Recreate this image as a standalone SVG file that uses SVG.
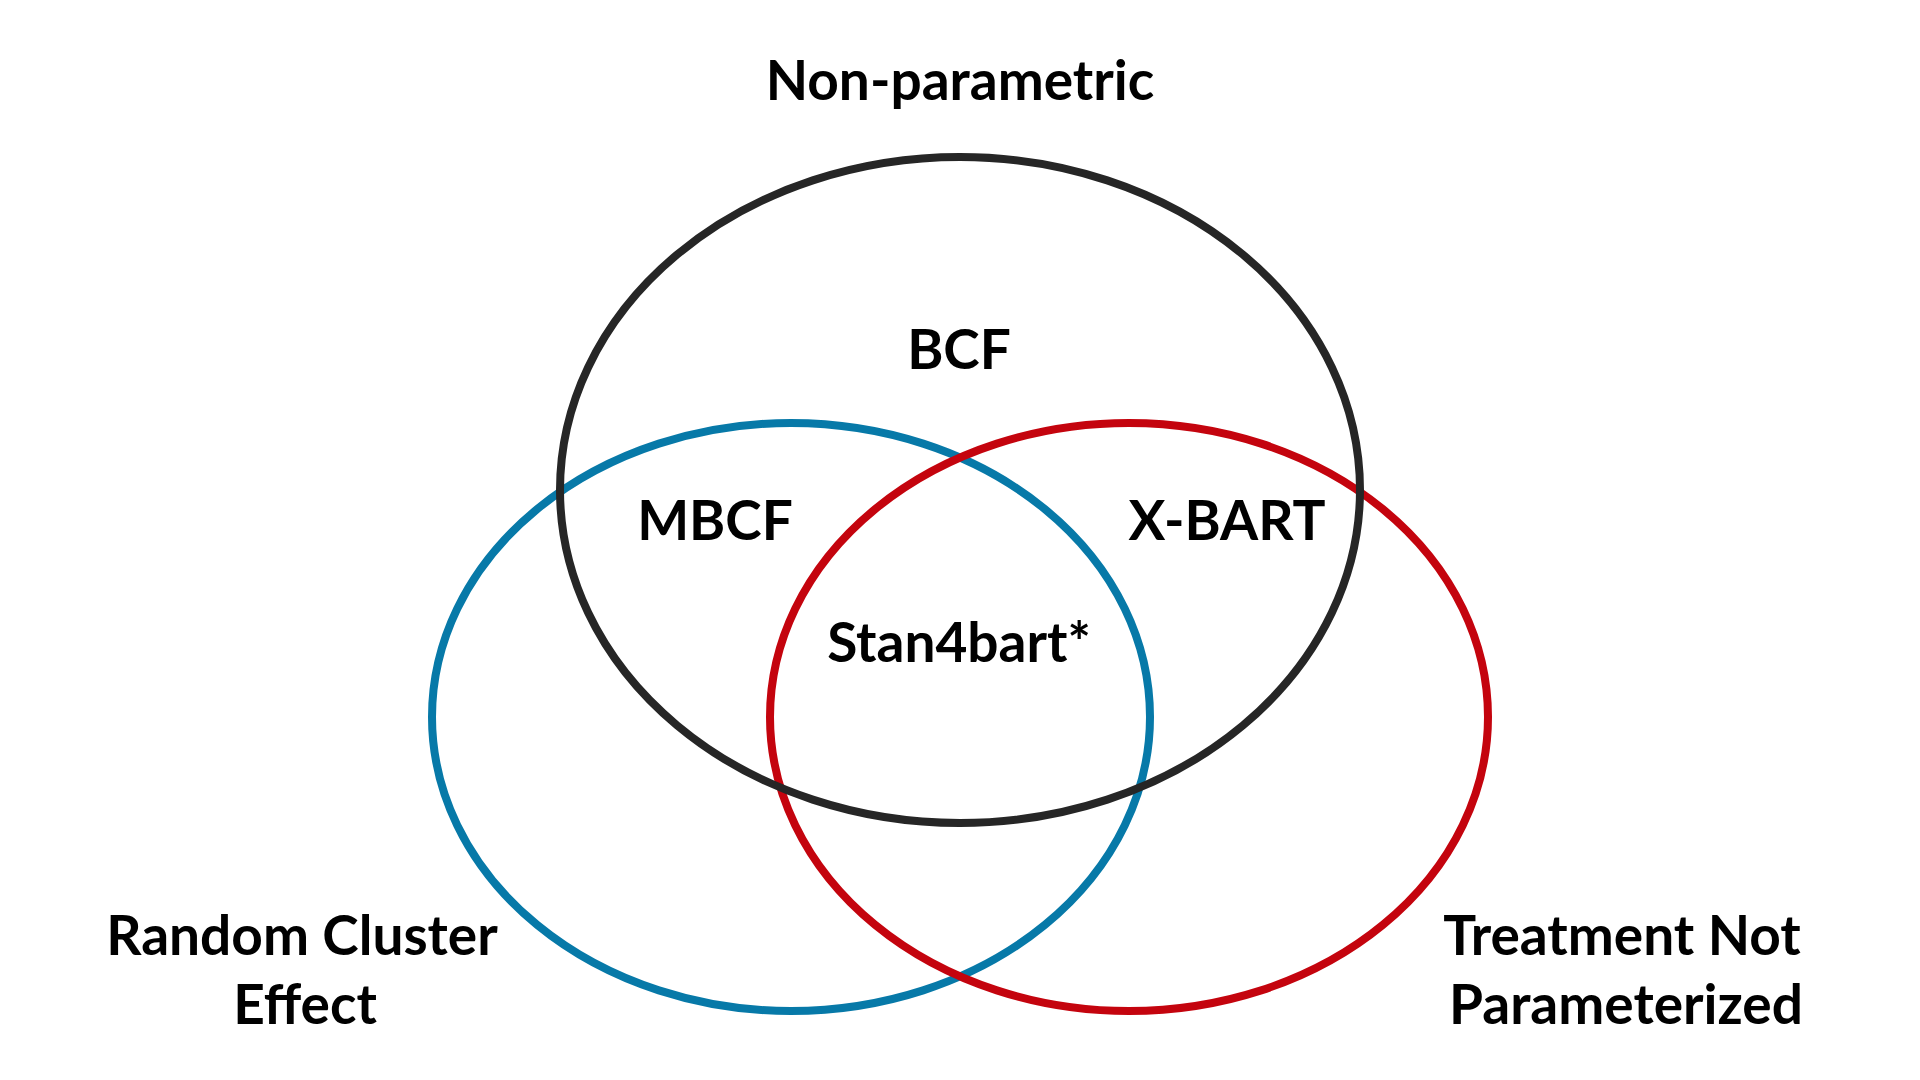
<svg xmlns="http://www.w3.org/2000/svg" width="1920" height="1080" viewBox="0 0 1920 1080">
<style>
.set{fill:none;stroke-width:8}
.lbl{font-family:Lato,"Liberation Sans",sans-serif;font-weight:700;font-size:55px;fill:#000;text-anchor:middle}
</style>
<rect width="1920" height="1080" fill="#fff"/>
<g id="set-random-cluster"><ellipse class="set" cx="791" cy="717" rx="359" ry="294" stroke="#0779A8"/></g>
<g id="set-treatment"><ellipse class="set" cx="1129" cy="717" rx="359" ry="294" stroke="#C4040E"/></g>
<g id="set-nonparametric"><ellipse class="set" cx="960" cy="490" rx="400" ry="333" stroke="#262626"/></g>
<g id="labels">
<text class="lbl" x="960" y="100">Non-parametric</text>
<text class="lbl" x="959" y="369">BCF</text>
<text class="lbl" x="715" y="540">MBCF</text>
<text class="lbl" x="1227" y="540">X-BART</text>
<text class="lbl" x="959" y="662">Stan4bart*</text>
<text class="lbl" x="302" y="955">Random Cluster</text>
<text class="lbl" x="305" y="1024">Effect</text>
<text class="lbl" x="1622" y="955">Treatment Not</text>
<text class="lbl" x="1626" y="1024">Parameterized</text>
</g>
</svg>
